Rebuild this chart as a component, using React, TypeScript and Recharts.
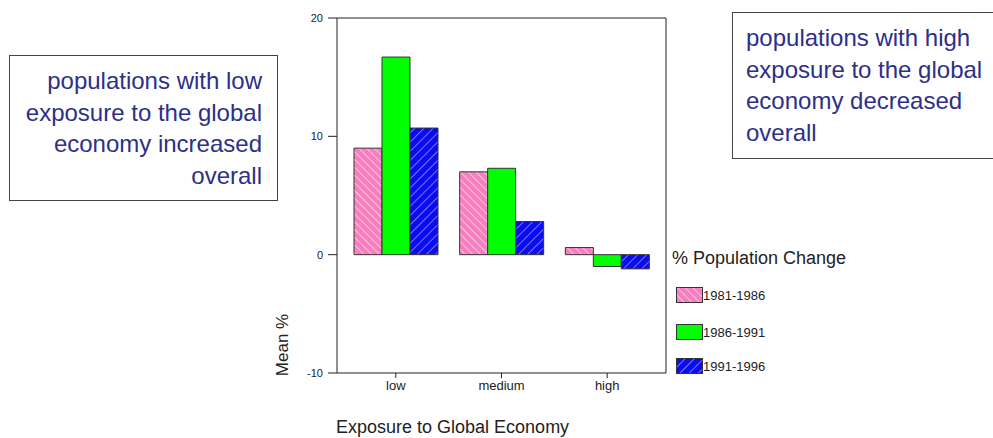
import React from 'react';
import { BarChart, Bar, XAxis, YAxis, Legend } from 'recharts';

const categories = ['low', 'medium', 'high'];
const seriesNames = ['1981-1986', '1986-1991', '1991-1996'];
const values8186 = [9.0, 7.0, 0.6];
const values8691 = [16.7, 7.3, -1.0];
const values9196 = [10.7, 2.8, -1.2];
const yTicks = [20, 10, 0, -10];
const leftNote = ['populations with low', 'exposure to the global', 'economy increased', 'overall'];
const rightNote = ['populations with high', 'exposure to the global', 'economy decreased', 'overall'];
const legendTitle = '% Population Change';
const xTitle = 'Exposure to Global Economy';
const yTitle = 'Mean %';

const seriesKeys = ['s1', 's2', 's3'];
const seriesFills = ['url(#hatchPink)', '#00ff00', 'url(#hatchBlue)'];

const data = categories.map((c, i) => ({
  name: c,
  s1: values8186[i],
  s2: values8691[i],
  s3: values9196[i],
}));

const FONT = '"Liberation Sans", Arial, sans-serif';
const NOTE_COLOR = '#2c3088';

const noteStyle: React.CSSProperties = {
  position: 'absolute',
  boxSizing: 'border-box',
  border: '1.5px solid #444',
  background: '#fff',
  fontFamily: FONT,
  fontSize: 24,
  lineHeight: '31.7px',
  color: NOTE_COLOR,
  whiteSpace: 'pre',
};

const renderLegend = () => (
  <div style={{ position: 'relative', width: 220, height: 140, fontFamily: FONT }}>
    <div style={{ position: 'absolute', left: 0, top: 0, fontSize: 18, lineHeight: '24px', color: '#222', whiteSpace: 'pre' }}>
      {legendTitle}
    </div>
    {seriesNames.map((n, i) => (
      <div
        key={n}
        style={{ position: 'absolute', left: 4, top: [41, 78, 112][i], height: 16, display: 'flex', alignItems: 'center' }}
      >
        <svg width={27} height={16} style={{ display: 'block' }}>
          <rect x={0.5} y={0.5} width={26} height={15} fill={seriesFills[i]} stroke="#333" strokeWidth={1} />
        </svg>
        <span style={{ fontSize: 13, color: '#222', whiteSpace: 'pre' }}>{n}</span>
      </div>
    ))}
  </div>
);

export default function App() {
  return (
    <div style={{ position: 'absolute', left: 0, top: 0, width: 993, height: 438, background: '#fff', overflow: 'hidden' }}>
      <BarChart
        width={993}
        height={438}
        data={data}
        margin={{ top: 17, right: 326, left: 277, bottom: 35 }}
        barGap={0}
        barSize={28}
      >
        <defs>
          <pattern id="hatchPink" patternUnits="userSpaceOnUse" width="5.5" height="5.5" patternTransform="rotate(-45)">
            <rect width="5.5" height="5.5" fill="#f87fbf" />
            <line x1="0" y1="0" x2="0" y2="5.5" stroke="#ffeef6" strokeWidth="1.2" />
          </pattern>
          <pattern id="hatchBlue" patternUnits="userSpaceOnUse" width="6.5" height="6.5" patternTransform="rotate(45)">
            <rect width="6.5" height="6.5" fill="#0c0cf0" />
            <line x1="0" y1="0" x2="0" y2="6.5" stroke="#b8b8ff" strokeWidth="1.2" />
          </pattern>
        </defs>
        <XAxis
          dataKey="name"
          height={30}
          padding={{ left: 6, right: 6 }}
          axisLine={{ stroke: '#222' }}
          tickLine={{ stroke: '#222' }}
          tickSize={5}
          tickMargin={3}
          tick={{ fontSize: 13, fill: '#222', fontFamily: FONT }}
        />
        <XAxis
          xAxisId="top"
          dataKey="name"
          orientation="top"
          height={1}
          axisLine={{ stroke: '#222' }}
          tickLine={false}
          tick={false}
        />
        <YAxis
          width={60}
          domain={[-10, 20]}
          ticks={yTicks}
          interval={0}
          allowDataOverflow
          axisLine={{ stroke: '#222' }}
          tickLine={{ stroke: '#222' }}
          tickSize={9}
          tickMargin={5}
          tick={{ fontSize: 11, fill: '#222', fontFamily: FONT }}
        />
        <YAxis
          yAxisId="right"
          orientation="right"
          width={1}
          domain={[-10, 20]}
          axisLine={{ stroke: '#222' }}
          tickLine={false}
          tick={false}
        />
        {seriesKeys.map((k, i) => (
          <Bar
            key={k}
            dataKey={k}
            name={seriesNames[i]}
            fill={seriesFills[i]}
            stroke="#333"
            strokeWidth={1}
            isAnimationActive={false}
          />
        ))}
        <Legend
          layout="vertical"
          align="center"
          verticalAlign="middle"
          wrapperStyle={{ left: 672, top: 246, width: 220 }}
          content={renderLegend}
        />
        <text x={336} y={433} fontSize={18} fill="#222" fontFamily={FONT}>
          {xTitle}
        </text>
        <text
          x={282}
          y={345}
          fontSize={17}
          fill="#222"
          fontFamily={FONT}
          textAnchor="middle"
          dominantBaseline="central"
          transform="rotate(-90 282 345)"
        >
          {yTitle}
        </text>
      </BarChart>
      <div style={{ ...noteStyle, left: 9, top: 55, width: 269, height: 146, textAlign: 'right', padding: '9px 15px 0 0' }}>
        {leftNote.join('\n')}
      </div>
      <div style={{ ...noteStyle, left: 732, top: 12, width: 280, height: 147, textAlign: 'left', padding: '9px 0 0 13px' }}>
        {rightNote.join('\n')}
      </div>
    </div>
  );
}
